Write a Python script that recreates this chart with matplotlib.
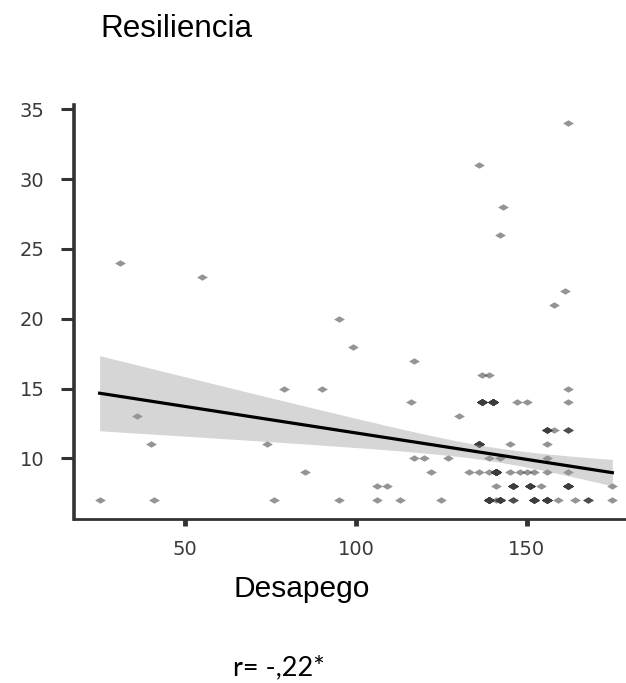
import numpy as np
import matplotlib
matplotlib.use("Agg")
import matplotlib.pyplot as plt

# ---- data: (Desapego, Resiliencia, number of overlapping cases) ----
desapego = [162, 136, 143, 142, 31, 55, 161, 158, 95, 99, 117,
            137, 139,
            79, 90, 162,
            116, 137, 140, 147, 150, 162,
            36, 130,
            156, 158, 162,
            40, 74, 136, 145, 156,
            117, 120, 127, 139, 142, 156,
            85, 122, 133, 136, 139, 141, 145, 148, 150, 152, 156, 162,
            106, 109, 141, 146, 151, 154, 162, 175,
            25, 41, 76, 95, 106, 113, 125, 139, 141, 142, 146, 152, 156,
            159, 164, 168, 175]
resiliencia = [34, 31, 28, 26, 24, 23, 22, 21, 20, 18, 17,
               16, 16,
               15, 15, 15,
               14, 14, 14, 14, 14, 14,
               13, 13,
               12, 12, 12,
               11, 11, 11, 11, 11,
               10, 10, 10, 10, 10, 10,
               9, 9, 9, 9, 9, 9, 9, 9, 9, 9, 9, 9,
               8, 8, 8, 8, 8, 8, 8, 8,
               7, 7, 7, 7, 7, 7, 7, 7, 7, 7, 7, 7, 7,
               7, 7, 7, 7]
casos = [1, 1, 1, 1, 1, 1, 1, 1, 1, 1, 1,
         1, 1,
         1, 1, 1,
         1, 17, 25, 1, 1, 1,
         1, 1,
         6, 1, 3,
         1, 1, 13, 1, 1,
         1, 1, 1, 1, 1, 1,
         1, 1, 1, 1, 1, 35, 1, 1, 1, 1, 1, 1,
         1, 1, 1, 10, 10, 1, 12, 1,
         1, 1, 1, 1, 1, 1, 1, 22, 1, 10, 3, 10, 12,
         1, 1, 3, 1]
x_ticks = [50, 100, 150]
y_ticks = [10, 15, 20, 25, 30, 35]
title = "Resiliencia"
xlabel = "Desapego"
note = "r= -,22*"

x = np.repeat(np.array(desapego, dtype=float), casos)
y = np.repeat(np.array(resiliencia, dtype=float), casos)

# linear fit + 95% confidence band (analytic)
n = len(x)
b, a = np.polyfit(x, y, 1)
resid = y - (a + b * x)
s = np.sqrt(np.sum(resid ** 2) / (n - 2))
sxx = np.sum((x - x.mean()) ** 2)
tcrit = 1.97
xg = np.linspace(x.min(), x.max(), 100)
yg = a + b * xg
half = tcrit * s * np.sqrt(1.0 / n + (xg - x.mean()) ** 2 / sxx)

W, H = 626, 683
fig = plt.figure(figsize=(W / 100, H / 100), dpi=100)
ax = fig.add_axes([74 / W, 1 - 519 / H, (638 - 74) / W, (519 - 104.5) / H])

marker = [(-1, 0), (0, 0.6), (1, 0), (0, -0.6), (-1, 0)]
ax.scatter(x, y, marker=marker, s=60, color="#3c3c3c", alpha=0.55,
           linewidths=0, zorder=2)
ax.fill_between(xg, yg - half, yg + half, color="#999999", alpha=0.4,
                linewidth=0, zorder=3)
ax.plot(xg, yg, color="black", lw=2.3, zorder=4)

ax.set_xlim(17.5, 182.5)
ax.set_ylim(5.65, 35.35)
ax.set_xticks(x_ticks)
ax.set_yticks(y_ticks)

for side in ("top", "right"):
    ax.spines[side].set_visible(False)
ax.spines["left"].set_color("#333333")
ax.spines["left"].set_linewidth(2.6)
ax.spines["bottom"].set_color("#333333")
ax.spines["bottom"].set_linewidth(2.0)

ax.tick_params(axis="y", direction="out", length=9.4, width=2.2,
               color="#333333", pad=12, labelsize=14, labelcolor="#3a3a3a")
ax.tick_params(axis="x", direction="out", length=5, width=3.5,
               color="#333333", pad=10, labelsize=14, labelcolor="#3a3a3a")
for lab in ax.get_xticklabels() + ax.get_yticklabels():
    lab.set_family("DejaVu Sans")

fig.text(100 / W, 1 - 36.7 / H, title, fontsize=22.6,
         family="Liberation Sans", va="baseline", ha="left")
fig.text(233 / W, 1 - 597 / H, xlabel, fontsize=21.5,
         family="Liberation Sans", va="baseline", ha="left")
fig.text(233 / W, 1 - 675 / H, note, fontsize=19.5,
         family="Lato", va="baseline", ha="left")

fig.savefig("out.png", dpi=100)
